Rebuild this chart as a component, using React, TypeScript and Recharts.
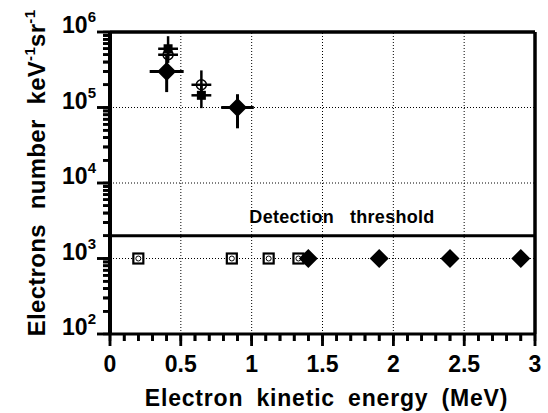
import React from 'react';
import { ScatterChart, Scatter, XAxis, YAxis, ErrorBar, ReferenceLine } from 'recharts';

const FONT = '"Liberation Sans", Arial, Helvetica, sans-serif';

// ---- axes ----
const xDomain = [0, 3];
const xMajorTicks = [0, 0.5, 1, 1.5, 2, 2.5, 3];
const xTickLabels = ['0', '0.5', '1', '1.5', '2', '2.5', '3'];
const xAllTicks = [
  0, 0.1, 0.2, 0.3, 0.4, 0.5, 0.6, 0.7, 0.8, 0.9, 1, 1.1, 1.2, 1.3, 1.4, 1.5,
  1.6, 1.7, 1.8, 1.9, 2, 2.1, 2.2, 2.3, 2.4, 2.5, 2.6, 2.7, 2.8, 2.9, 3,
];
const xGridValues = [0.5, 1, 1.5, 2, 2.5];

const yDomain = [100, 1000000];
const yMajorTicks = [100, 1000, 10000, 100000, 1000000];
const yExponents = ['2', '3', '4', '5', '6'];
const yAllTicks = [
  100, 200, 300, 400, 500, 600, 700, 800, 900,
  1000, 2000, 3000, 4000, 5000, 6000, 7000, 8000, 9000,
  10000, 20000, 30000, 40000, 50000, 60000, 70000, 80000, 90000,
  100000, 200000, 300000, 400000, 500000, 600000, 700000, 800000, 900000,
  1000000,
];
const yGridValues = [1000, 10000, 100000];

const xTitle = 'Electron kinetic energy (MeV)';
const yTitleMain = 'Electrons number keV';
const yTitleSup = '-1';
const yTitleMid = 'sr';
const thresholdValue = 2000;
const thresholdLabel = 'Detection   threshold';

// ---- series: filled diamonds with error bars ----
const diamondX = [0.4, 0.9];
const diamondY = [300000, 100000];
const diamondXErr = [0.12, 0.115];
const diamondYLow = [160000, 53000];
const diamondYHigh = [500000, 150000];

// ---- series: filled squares with error bars ----
const squareX = [0.41, 0.645];
const squareY = [600000, 145000];
const squareXErr = [0.07, 0.07];
const squareYLow = [440000, 98000];
const squareYHigh = [880000, 200000];

// ---- series: open circles with error bars ----
const circleX = [0.41, 0.645];
const circleY = [500000, 200000];
const circleXErr = [0.07, 0.07];
const circleYLow = [390000, 140000];
const circleYHigh = [630000, 310000];

// ---- below threshold points ----
const openSquareX = [0.2, 0.86, 1.12, 1.33];
const openSquareY = [1000, 1000, 1000, 1000];
const lowDiamondX = [1.4, 1.9, 2.4, 2.9];
const lowDiamondY = [1000, 1000, 1000, 1000];

const withErr = (xs: number[], ys: number[], xe: number[], lo: number[], hi: number[]) =>
  xs.map((x, i) => ({ x, y: ys[i], ex: [xe[i], xe[i]], ey: [ys[i] - lo[i], hi[i] - ys[i]] }));
const plain = (xs: number[], ys: number[]) => xs.map((x, i) => ({ x, y: ys[i] }));

const diamondData = withErr(diamondX, diamondY, diamondXErr, diamondYLow, diamondYHigh);
const squareData = withErr(squareX, squareY, squareXErr, squareYLow, squareYHigh);
const circleData = withErr(circleX, circleY, circleXErr, circleYLow, circleYHigh);
const openSquareData = plain(openSquareX, openSquareY);
const lowDiamondData = plain(lowDiamondX, lowDiamondY);

// tick-mark anchors placed on the axes through the chart scales
const xTickMarkData = xAllTicks.map((v) => ({ x: v, y: yDomain[0], major: xMajorTicks.indexOf(v) >= 0 }));
const yTickMarkData = yAllTicks.map((v) => ({ x: xDomain[0], y: v, major: yMajorTicks.indexOf(v) >= 0 }));

// ---- shapes ----
const DiamondShape = (p: any) => {
  const { cx, cy } = p;
  const r = 9.5;
  return <path d={`M${cx},${cy - r}L${cx + r},${cy}L${cx},${cy + r}L${cx - r},${cy}Z`} fill="#000" />;
};
const SquareShape = (p: any) => {
  const { cx, cy } = p;
  const s = 9;
  return <rect x={cx - s / 2} y={cy - s / 2} width={s} height={s} fill="#000" />;
};
const CircleShape = (p: any) => {
  const { cx, cy } = p;
  return <circle cx={cx} cy={cy} r={5} fill="none" stroke="#000" strokeWidth={1.5} />;
};
const OpenSquareShape = (p: any) => {
  const { cx, cy } = p;
  const s = 10;
  return (
    <g>
      <rect x={cx - s / 2} y={cy - s / 2} width={s} height={s} fill="#fff" stroke="#000" strokeWidth={2.2} />
      <circle cx={cx} cy={cy} r={2.5} fill="#fff" stroke="#000" strokeWidth={1} />
    </g>
  );
};
const XTickMark = (p: any) => {
  const { cx, cy, payload } = p;
  const len = payload && payload.major ? 12 : 7;
  return <rect x={cx - 1.25} y={cy} width={2.5} height={len} fill="#000" />;
};
const YTickMark = (p: any) => {
  const { cx, cy, payload } = p;
  const len = payload && payload.major ? 13 : 7;
  return <rect x={cx - len} y={cy - 1.25} width={len} height={2.5} fill="#000" />;
};

// ---- tick labels (recharts draws the 7px tick line; majors get an extension) ----
const XTick = (props: any) => {
  const { x, y, payload } = props;
  const idx = xMajorTicks.indexOf(payload.value);
  const major = idx >= 0;
  return (
    <g>
      <rect x={x - 1.25} y={y - 7} width={2.5} height={major ? 12 : 7} fill="#000" />
      {major && (
        <text x={x} y={y + 31} textAnchor="middle" fontFamily={FONT} fontWeight="bold" fontSize={23} fill="#000">
          {xTickLabels[idx]}
        </text>
      )}
    </g>
  );
};

const YTick = (props: any) => {
  const { x, y, payload } = props;
  const idx = yMajorTicks.indexOf(payload.value);
  const major = idx >= 0;
  return (
    <g>
      <rect x={major ? x - 6 : x} y={y - 1.25} width={major ? 13 : 7} height={2.5} fill="#000" />
      {major && (
        <text x={x - 7} y={y + 1} textAnchor="end" fontFamily={FONT} fontWeight="bold" fill="#000">
          <tspan fontSize={23}>10</tspan>
          <tspan fontSize={15} dy={-11}>{yExponents[idx]}</tspan>
        </text>
      )}
    </g>
  );
};

const XTitle = (props: any) => {
  const vb = props.viewBox;
  return (
    <text x={vb.x + vb.width / 2 + 4} y={vb.y + 72} textAnchor="middle" fontFamily={FONT} fontWeight="bold"
      fontSize={23} fill="#000" style={{ wordSpacing: 6, letterSpacing: 0.8 }}>
      {xTitle}
    </text>
  );
};

const YTitle = (props: any) => {
  const vb = props.viewBox;
  const cx = 45;
  const cy = vb.y + vb.height / 2 - 10;
  return (
    <text x={cx} y={cy} transform={`rotate(-90 ${cx} ${cy})`} textAnchor="middle" fontFamily={FONT}
      fontWeight="bold" fontSize={24} fill="#000" style={{ wordSpacing: 8, letterSpacing: 0.3 }}>
      <tspan>{yTitleMain}</tspan>
      <tspan fontSize={15} dy={-10}>{yTitleSup}</tspan>
      <tspan dy={10}>{yTitleMid}</tspan>
      <tspan fontSize={15} dy={-10}>{yTitleSup}</tspan>
    </text>
  );
};

const ThresholdLabel = (props: any) => {
  const vb = props.viewBox;
  return (
    <text x={vb.x + 232} y={vb.y - 13} textAnchor="middle" fontFamily={FONT} fontWeight="bold" fontSize={18}
      fill="#000" style={{ whiteSpace: 'pre', letterSpacing: 0.3 }}>
      {thresholdLabel}
    </text>
  );
};

export default function App() {
  return (
    <div style={{ position: 'absolute', left: 0, top: 0 }}>
      <ScatterChart width={548} height={413} margin={{ top: 32, right: 13, bottom: 0, left: 0 }}>
        <XAxis
          type="number"
          dataKey="x"
          domain={xDomain}
          ticks={xAllTicks}
          interval={0}
          height={79}
          tickSize={7}
          tickMargin={0}
          tickLine={{ stroke: '#000', strokeWidth: 2.5 }}
          tick={<XTick />}
          axisLine={{ stroke: '#000', strokeWidth: 3 }}
          label={XTitle}
        />
        <YAxis
          type="number"
          dataKey="y"
          scale="log"
          domain={yDomain}
          ticks={yAllTicks}
          interval={0}
          width={110}
          tickSize={7}
          tickMargin={0}
          tickLine={{ stroke: '#000', strokeWidth: 2.5 }}
          tick={<YTick />}
          axisLine={{ stroke: '#000', strokeWidth: 4 }}
          label={YTitle}
        />
        {xGridValues.map((v) => (
          <ReferenceLine key={'gx' + v} x={v} stroke="#000" strokeWidth={1} strokeDasharray="1 2" />
        ))}
        {yGridValues.map((v) => (
          <ReferenceLine key={'gy' + v} y={v} stroke="#000" strokeWidth={1} strokeDasharray="1 2" />
        ))}
        <ReferenceLine y={1000000} stroke="#000" strokeWidth={3.5} />
        <ReferenceLine x={3} stroke="#000" strokeWidth={3.5} />
        <ReferenceLine y={thresholdValue} stroke="#000" strokeWidth={3} label={ThresholdLabel} />
        <Scatter data={xTickMarkData} shape={XTickMark} isAnimationActive={false} />
        <Scatter data={yTickMarkData} shape={YTickMark} isAnimationActive={false} />
        <Scatter data={openSquareData} shape={OpenSquareShape} isAnimationActive={false} />
        <Scatter data={lowDiamondData} shape={DiamondShape} isAnimationActive={false} />
        <Scatter data={squareData} shape={SquareShape} isAnimationActive={false}>
          <ErrorBar dataKey="ex" direction="x" width={0} stroke="#000" strokeWidth={2.5} />
          <ErrorBar dataKey="ey" direction="y" width={0} stroke="#000" strokeWidth={2.5} />
        </Scatter>
        <Scatter data={circleData} shape={CircleShape} isAnimationActive={false}>
          <ErrorBar dataKey="ex" direction="x" width={0} stroke="#000" strokeWidth={2.5} />
          <ErrorBar dataKey="ey" direction="y" width={0} stroke="#000" strokeWidth={2.5} />
        </Scatter>
        <Scatter data={diamondData} shape={DiamondShape} isAnimationActive={false}>
          <ErrorBar dataKey="ex" direction="x" width={0} stroke="#000" strokeWidth={3} />
          <ErrorBar dataKey="ey" direction="y" width={0} stroke="#000" strokeWidth={3} />
        </Scatter>
      </ScatterChart>
    </div>
  );
}
